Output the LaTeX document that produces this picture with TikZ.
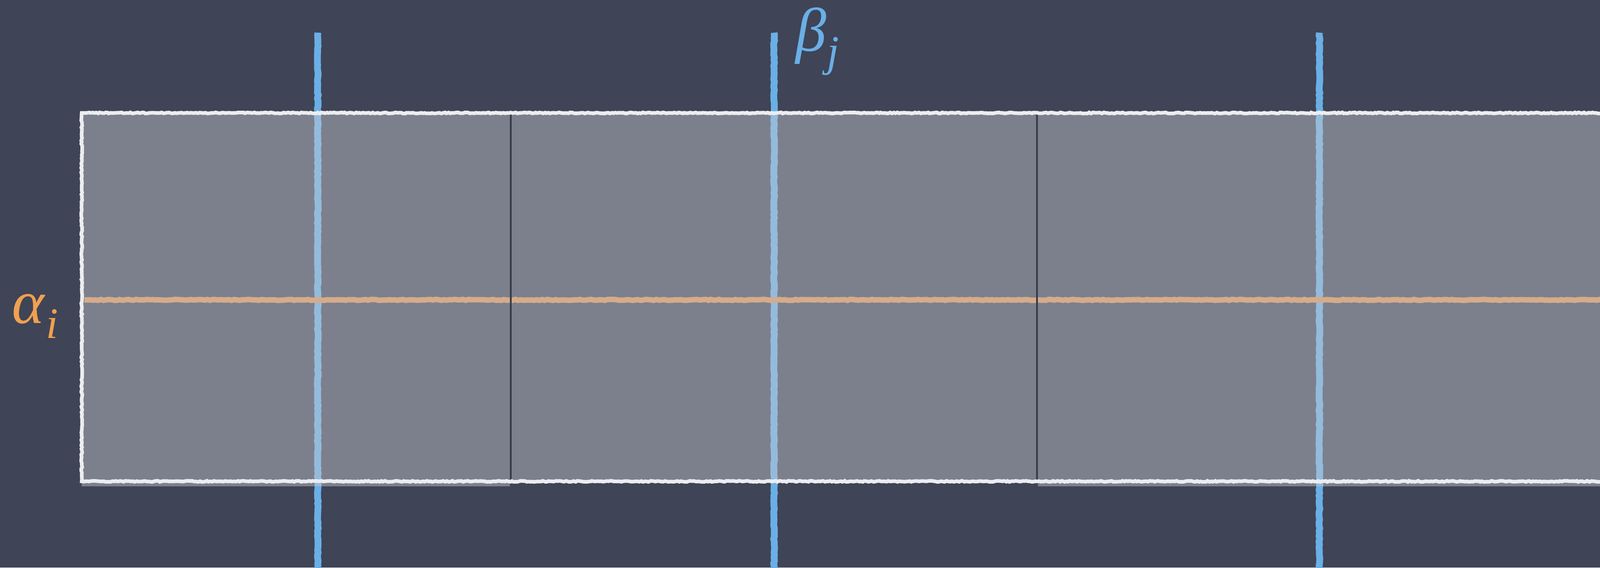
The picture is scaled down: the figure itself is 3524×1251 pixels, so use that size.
\documentclass[tikz,border=0pt]{standalone}
\usepackage{fontspec}
\newfontfamily\tms{Liberation Serif}
\usetikzlibrary{decorations.pathmorphing}
\definecolor{board}{RGB}{63,68,86}
\definecolor{panel}{RGB}{200,202,210}
\definecolor{chalkblue}{RGB}{106,175,230}
\definecolor{chalkorange}{RGB}{226,146,78}
\definecolor{labelorange}{RGB}{240,160,80}
\definecolor{gapdark}{RGB}{56,60,75}
\definecolor{chalkwhite}{RGB}{236,237,240}
\newcommand{\subsz}{\fontsize{96}{100}\selectfont}
\tikzset{
  bluechalk/.style={draw=chalkblue,line width=15pt,decorate,decoration={random steps,segment length=6pt,amplitude=1pt}},
  orangechalk/.style={draw=chalkorange,line width=12pt,decorate,decoration={random steps,segment length=6pt,amplitude=1pt}},
  panelfill/.style={fill=panel,fill opacity=0.45},
  gapline/.style={draw=gapdark,line width=4.5pt},
  whitechalk/.style={draw=chalkwhite,line width=8pt,line join=miter,decorate,decoration={random steps,segment length=4pt,amplitude=1.2pt}},
  greeklabel/.style={inner sep=0pt,anchor=base west,font=\tms\itshape\fontsize{136}{150}\selectfont}
}
\begin{document}
\begin{tikzpicture}[x=1pt,y=-1pt]
\fill[board] (0,0) rectangle (3524,1251);
\useasboundingbox (0,0) rectangle (3524,1251);
% coordinates
\coordinate (b1t) at (700,72);   \coordinate (b1b) at (700,1260);
\coordinate (b2t) at (1705,72);  \coordinate (b2b) at (1705,1260);
\coordinate (b3t) at (2906,72);  \coordinate (b3b) at (2906,1260);
\coordinate (ol) at (186,661);   \coordinate (or) at (3540,661);
% chalk lines
\draw[bluechalk] (b1t) -- (b1b);
\draw[bluechalk] (b2t) -- (b2b);
\draw[bluechalk] (b3t) -- (b3b);
\draw[orangechalk] (ol) -- (or);
% translucent panels
\fill[panelfill] (180,250) rectangle (1123,1072);
\fill[panelfill] (1127,245) rectangle (2282,1063);
\fill[panelfill] (2286,250) rectangle (3540,1072);
% dividers
\coordinate (d1t) at (1125,250); \coordinate (d1b) at (1125,1060);
\coordinate (d2t) at (2284,250); \coordinate (d2b) at (2284,1060);
\draw[gapline] (d1t) -- (d1b);
\draw[gapline] (d2t) -- (d2b);
% white border
\coordinate (wtr) at (3540,249);
\coordinate (wtl) at (180,249);
\coordinate (wbl) at (180,1061);
\coordinate (wbr) at (3540,1061);
\draw[whitechalk] (wtr) -- (wtl) -- (wbl) -- (wbr);
% labels
\node[greeklabel,text=labelorange] (alpha) at (26,712) {α\kern4pt\raisebox{-33pt}{\subsz i}};
\node[greeklabel,text=chalkblue] (beta) at (1752,112) {β\kern2pt\raisebox{-33pt}{\subsz j}};
\end{tikzpicture}
\end{document}
